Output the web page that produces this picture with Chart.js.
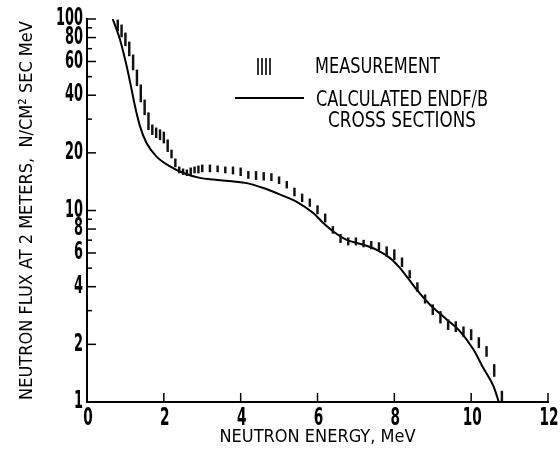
<!DOCTYPE html>
<html>
<head>
<meta charset="utf-8">
<script src="https://cdn.jsdelivr.net/npm/chart.js@4.4.0/dist/chart.umd.min.js"></script>
<style>
  html, body { margin: 0; padding: 0; background: #fff; }
  #wrap { width: 560px; height: 454px; position: relative; }
</style>
</head>
<body>
<div id="wrap"><canvas id="fluxChart"></canvas></div>
<script>
// measured flux (error bars), MeV and N/cm2 sec MeV
const measEnergy = [0.8, 0.9, 1.0, 1.1, 1.2, 1.3, 1.4, 1.5, 1.6, 1.7, 1.8, 1.9, 2.0, 2.1, 2.2, 2.3, 2.4, 2.5, 2.6, 2.7, 2.8, 2.9, 3.0,
  3.2, 3.4, 3.6, 3.8, 4.0, 4.2, 4.4, 4.6, 4.8, 5.0, 5.2, 5.4, 5.6, 5.8, 6.0, 6.2, 6.4, 6.6, 6.8, 7.0, 7.2, 7.4, 7.6, 7.8,
  8.0, 8.2, 8.4, 8.6, 8.8, 9.0, 9.2, 9.4, 9.6, 9.8, 10.0, 10.2, 10.4, 10.6, 10.8];
const measLow = [86.7, 80.7, 72.4, 64.2, 54.2, 44.8, 36.9, 31.6, 26.4, 24.9, 24.0, 23.4, 22.5, 20.3, 18.8, 16.9, 15.7, 15.4, 15.2, 15.4, 15.7, 15.7, 15.9,
  15.9, 15.9, 15.7, 15.5, 15.2, 14.7, 14.5, 14.4, 14.3, 13.8, 13.1, 11.9, 11.1, 10.5, 9.6, 8.7, 7.6, 6.8, 6.6, 6.6, 6.45, 6.3, 6.2, 5.76,
  5.53, 5.09, 4.44, 3.78, 3.28, 2.86, 2.58, 2.39, 2.33, 2.20, 2.11, 1.92, 1.73, 1.36, 1.01];
const measHigh = [98.9, 93.2, 84.6, 75.9, 65.0, 54.2, 45.3, 37.8, 32.4, 28.0, 27.0, 26.4, 25.7, 23.4, 20.7, 18.6, 16.9, 16.5, 16.3, 16.7, 16.9, 17.1, 17.3,
  17.3, 17.1, 16.9, 16.9, 16.7, 16.0, 16.0, 15.8, 15.6, 15.0, 14.2, 13.1, 12.2, 11.5, 10.6, 9.6, 8.25, 7.5, 7.2, 7.2, 7.0, 6.9, 6.8, 6.47,
  6.24, 5.66, 4.86, 4.2, 3.63, 3.22, 2.97, 2.69, 2.63, 2.47, 2.39, 2.17, 1.95, 1.57, 1.14];

// calculated ENDF/B curve
const calcEnergy = [0.67, 0.86, 1.03, 1.16, 1.25, 1.38, 1.55, 1.81, 2.16, 2.51, 2.94, 3.3, 3.77, 4.16, 4.59, 5.03, 5.46, 5.89,
  6.15, 6.41, 6.76, 7.2, 7.54, 7.89, 8.15, 8.33, 8.58, 8.93, 9.37, 9.71, 10.06, 10.32, 10.58, 10.72];
const calcFlux = [100, 78, 57, 43, 35, 27.5, 22.5, 19.1, 17.0, 15.7, 14.8, 14.5, 14.2, 13.9, 13.1, 12.1, 11.1, 9.7,
  8.6, 7.77, 7.03, 6.62, 6.23, 5.64, 5.0, 4.5, 3.86, 3.22, 2.69, 2.34, 1.88, 1.5, 1.21, 1.0];

const xTicks = [0, 2, 4, 6, 8, 10, 12];
const yTicks = [1, 2, 4, 6, 8, 10, 20, 40, 60, 80, 100];
const yMinorTicks = [3, 5, 7, 9, 30, 50, 70, 90];

const legendMeasure = 'MEASUREMENT';
const legendCalc = ['CALCULATED ENDF/B', 'CROSS SECTIONS'];

const narrow = "'Liberation Sans Narrow', 'DejaVu Sans Condensed', sans-serif";
const tickFont = "bold 24px 'DejaVu Sans Condensed', sans-serif";

function strokeLine(ctx, x1, y1, x2, y2) {
  ctx.beginPath();
  ctx.moveTo(x1, y1);
  ctx.lineTo(x2, y2);
  ctx.stroke();
}

// ticks inside the axes, squeezed tick labels, legend box
const innerMarks = {
  id: 'innerMarks',
  afterDraw(chart) {
    const { ctx, chartArea, scales } = chart;
    ctx.save();
    ctx.strokeStyle = '#000';
    ctx.fillStyle = '#000';
    ctx.lineWidth = 1.5;
    yTicks.forEach(v => {
      const y = scales.y.getPixelForValue(v);
      strokeLine(ctx, chartArea.left, y, chartArea.left + 9, y);
    });
    yMinorTicks.forEach(v => {
      const y = scales.y.getPixelForValue(v);
      strokeLine(ctx, chartArea.left, y, chartArea.left + 5, y);
    });
    xTicks.forEach(v => {
      const x = scales.x.getPixelForValue(v);
      strokeLine(ctx, x, chartArea.bottom, x, chartArea.bottom - 9);
    });

    ctx.font = tickFont;
    ctx.textBaseline = 'middle';
    ctx.textAlign = 'right';
    yTicks.forEach(v => {
      const txt = String(v);
      ctx.fillText(txt, chartArea.left - 4, scales.y.getPixelForValue(v), 9 * txt.length);
    });
    ctx.textAlign = 'center';
    ctx.textBaseline = 'top';
    xTicks.forEach(v => {
      const txt = String(v);
      ctx.fillText(txt, scales.x.getPixelForValue(v) + 1, chartArea.bottom + 5, 9.5 * txt.length);
    });

    // legend
    ctx.lineWidth = 1.6;
    [258, 262, 266, 270].forEach(x => strokeLine(ctx, x, 58, x, 75));
    ctx.lineWidth = 2;
    strokeLine(ctx, 235, 98, 304, 98);

    ctx.textBaseline = 'middle';
    ctx.textAlign = 'left';
    ctx.font = '22px ' + narrow;
    ctx.fillText(legendMeasure, 315, 67, 125);
    ctx.fillText(legendCalc[0], 316, 100, 172);
    ctx.fillText(legendCalc[1], 328, 121, 148);
    ctx.restore();
  }
};

function buildChart() {
  const ctx = document.getElementById('fluxChart').getContext('2d');
  new Chart(ctx, {
    type: 'line',
    data: {
      datasets: [
        {
          type: 'bar',
          label: 'Measurement',
          data: measEnergy.map((e, i) => ({ x: e, y: [measLow[i], measHigh[i]] })),
          backgroundColor: '#111',
          borderWidth: 0,
          barThickness: 1.8
        },
        {
          type: 'line',
          label: 'Calculated ENDF/B cross sections',
          data: calcEnergy.map((e, i) => ({ x: e, y: calcFlux[i] })),
          borderColor: '#000',
          borderWidth: 2,
          pointRadius: 0,
          cubicInterpolationMode: 'monotone',
          fill: false
        }
      ]
    },
    options: {
      responsive: true,
      maintainAspectRatio: false,
      animation: false,
      layout: { padding: { left: 0, right: 12, top: 19, bottom: 0 } },
      plugins: { legend: { display: false }, tooltip: { enabled: false } },
      scales: {
        x: {
          type: 'linear',
          min: 0,
          max: 12,
          offset: false,
          grid: { display: false, drawTicks: false, offset: false },
          border: { display: true, color: '#000', width: 2 },
          afterBuildTicks: scale => { scale.ticks = xTicks.map(v => ({ value: v })); },
          afterFit: scale => { scale.height = 52; },
          ticks: { display: false },
          title: {
            display: true,
            text: 'NEUTRON ENERGY, MeV',
            color: '#000',
            font: { family: narrow, size: 18 },
            padding: { top: 0, bottom: 6 }
          }
        },
        y: {
          type: 'logarithmic',
          min: 1,
          max: 100,
          grid: { display: false, drawTicks: false },
          border: { display: true, color: '#000', width: 2 },
          afterBuildTicks: scale => { scale.ticks = yTicks.map(v => ({ value: v })); },
          afterFit: scale => { scale.width = 87; },
          ticks: { display: false },
          title: {
            display: true,
            text: 'NEUTRON FLUX AT 2 METERS,  N/CM² SEC MeV',
            color: '#000',
            font: { family: narrow, size: 18 },
            padding: { top: 17, bottom: 0 }
          }
        }
      }
    },
    plugins: [innerMarks]
  });
}

buildChart();
</script>
</body>
</html>
